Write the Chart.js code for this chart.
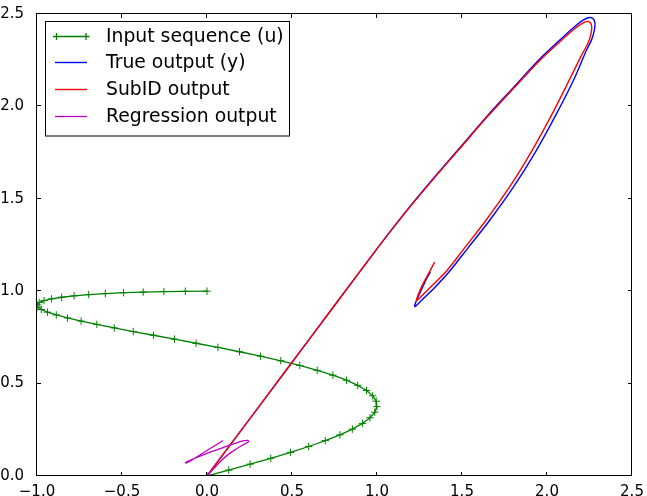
<!DOCTYPE html>
<html>
<head>
<meta charset="utf-8">
<script src="https://cdn.jsdelivr.net/npm/chart.js@4/dist/chart.umd.min.js"></script>
<style>
  html, body { margin: 0; padding: 0; background: #ffffff; }
  #wrap { width: 647px; height: 496px; }
</style>
</head>
<body>
<div id="wrap"><canvas id="c" width="647" height="496"></canvas></div>
<script>
// ---- data ----
const seriesLabels = ["Input sequence (u)", "True output (y)", "SubID output", "Regression output"];

const inputX = [0, 0.1279, 0.2536, 0.3753, 0.4907, 0.5981, 0.6959, 0.7818, 0.8551, 0.9144,
  0.9587, 0.9872, 0.9995, 0.9954, 0.9749, 0.9385, 0.8866, 0.8204, 0.7406, 0.6482,
  0.5455, 0.4339, 0.3151, 0.1912, 0.0641, -0.0641, -0.1912, -0.3151, -0.4339, -0.5455,
  -0.6482, -0.7406, -0.8204, -0.8866, -0.9385, -0.9749, -0.9954, -0.9995, -0.9872, -0.9587,
  -0.9144, -0.8551, -0.7818, -0.6959, -0.5981, -0.4907, -0.3753, -0.2536, -0.1279, 0];
const inputY = [0, 0.0321, 0.0641, 0.0960, 0.1279, 0.1596, 0.1912, 0.2225, 0.2536, 0.2845,
  0.3151, 0.3453, 0.3753, 0.4048, 0.4339, 0.4626, 0.4907, 0.5184, 0.5455, 0.5721,
  0.5981, 0.6235, 0.6482, 0.6723, 0.6959, 0.7183, 0.7406, 0.7616, 0.7818, 0.8014,
  0.8204, 0.8382, 0.8551, 0.8713, 0.8866, 0.9010, 0.9144, 0.9270, 0.9385, 0.9491,
  0.9587, 0.9673, 0.9749, 0.9816, 0.9872, 0.9918, 0.9954, 0.9979, 0.9995, 1.0];

const trueX = [0, 0.3, 0.6, 0.9, 1.05, 1.2, 1.35, 1.5, 1.65, 1.8, 1.95, 2.07, 2.16, 2.215, 2.25, 2.272, 2.282,
  2.278, 2.262, 2.23, 2.16, 2.05, 1.93, 1.8, 1.66, 1.54, 1.431, 1.35, 1.29, 1.245, 1.224,
  1.222, 1.24, 1.265, 1.29, 1.314];
const trueY = [0, 0.369, 0.738, 1.107, 1.29, 1.465, 1.63, 1.79, 1.95, 2.1, 2.25, 2.355, 2.43, 2.468, 2.481, 2.474, 2.45,
  2.41, 2.36, 2.3, 2.15, 1.95, 1.75, 1.56, 1.38, 1.24, 1.112, 1.03, 0.975, 0.935, 0.917,
  0.925, 0.965, 1.015, 1.065, 1.103];

const subidX = [0, 0.3, 0.6, 0.9, 1.05, 1.2, 1.35, 1.5, 1.65, 1.8, 1.95, 2.07, 2.155, 2.205, 2.235, 2.254, 2.263,
  2.258, 2.24, 2.205, 2.135, 2.025, 1.905, 1.777, 1.638, 1.52, 1.412, 1.335, 1.28, 1.245, 1.232,
  1.24, 1.265, 1.3, 1.339];
const subidY = [0, 0.369, 0.738, 1.107, 1.29, 1.463, 1.627, 1.786, 1.945, 2.094, 2.242, 2.345, 2.415, 2.448, 2.46, 2.454, 2.432,
  2.39, 2.34, 2.28, 2.15, 1.95, 1.75, 1.56, 1.38, 1.24, 1.112, 1.04, 0.99, 0.958, 0.95,
  0.975, 1.03, 1.09, 1.157];

const regX = [0, 0.04, 0.08, 0.12, 0.17, 0.21, 0.235, 0.245, 0.24, 0.21, 0.16, 0.09, 0.0, -0.07, -0.11, -0.127,
  -0.12, -0.09, -0.04, 0.02, 0.06, 0.094];
const regY = [0, 0.04, 0.08, 0.113, 0.145, 0.168, 0.18, 0.187, 0.193, 0.19, 0.175, 0.152, 0.123, 0.097, 0.081, 0.072,
  0.071, 0.086, 0.115, 0.15, 0.172, 0.192];

const xTicks = [-1.0, -0.5, 0.0, 0.5, 1.0, 1.5, 2.0, 2.5];
const yTicks = [0.0, 0.5, 1.0, 1.5, 2.0, 2.5];

// ---- build chart ----
function pts(xs, ys) { return xs.map((x, i) => ({ x: x, y: ys[i] })); }
function fmt(v) { return Number(v).toFixed(1).replace('-', '\u2212'); }

const frameTicks = {
  id: 'frameTicks',
  afterDatasetsDraw(chart) {
    const ctx = chart.ctx, a = chart.chartArea;
    const xs = chart.scales.x, ys = chart.scales.y;
    ctx.save();
    ctx.strokeStyle = '#000';
    ctx.lineWidth = 1;
    ctx.beginPath();
    xTicks.forEach(v => {
      const p = Math.round(xs.getPixelForValue(v)) - 0.5;
      ctx.moveTo(p, a.bottom); ctx.lineTo(p, a.bottom - 4);
      ctx.moveTo(p, a.top); ctx.lineTo(p, a.top + 4);
    });
    yTicks.forEach(v => {
      const p = Math.round(ys.getPixelForValue(v)) - 0.5;
      ctx.moveTo(a.left, p); ctx.lineTo(a.left + 4, p);
      ctx.moveTo(a.right, p); ctx.lineTo(a.right - 4, p);
    });
    ctx.stroke();
    ctx.strokeRect(a.left - 0.5, a.top - 0.5, a.right - a.left, a.bottom - a.top);
    ctx.restore();
  },
  afterDraw(chart) {
    const ctx = chart.ctx;
    ctx.save();
    const x0 = 45.5, y0 = 21.5, w = 244, h = 114.5;
    ctx.fillStyle = '#ffffff';
    ctx.fillRect(x0, y0, w, h);
    ctx.strokeStyle = '#000';
    ctx.lineWidth = 1;
    ctx.strokeRect(x0, y0, w, h);
    const rows = [36.5, 62.5, 89.5, 116.5];
    chart.data.datasets.forEach((ds, i) => {
      const y = rows[i];
      ctx.strokeStyle = ds.borderColor;
      ctx.lineWidth = ds.borderWidth;
      ctx.beginPath();
      ctx.moveTo(55, y); ctx.lineTo(87, y);
      if (i === 0) {
        [56.5, 86].forEach(mx => {
          ctx.moveTo(mx - 3.5, y); ctx.lineTo(mx + 3.5, y);
          ctx.moveTo(mx, y - 3.5); ctx.lineTo(mx, y + 3.5);
        });
      }
      ctx.stroke();
      ctx.fillStyle = '#000';
      ctx.font = '18.8px "DejaVu Sans"';
      ctx.textBaseline = 'middle';
      ctx.textAlign = 'left';
      ctx.fillText(ds.label, 106, y + 0.5);
    });
    ctx.restore();
  }
};

const tickFont = { family: '"DejaVu Sans"', size: 15 };

new Chart(document.getElementById('c'), {
  type: 'scatter',
  data: {
    datasets: [
      { label: seriesLabels[0], data: pts(inputX, inputY), showLine: true, borderColor: '#008000',
        backgroundColor: '#008000', borderWidth: 1.3, pointStyle: 'cross', pointRadius: 3.7,
        pointBorderWidth: 1, pointBorderColor: '#008000', order: 4, tension: 0 },
      { label: seriesLabels[1], data: pts(trueX, trueY), showLine: true, borderColor: '#0000ff',
        borderWidth: 1.4, pointRadius: 0, order: 3, tension: 0.3 },
      { label: seriesLabels[2], data: pts(subidX, subidY), showLine: true, borderColor: '#ff0000',
        borderWidth: 1.4, pointRadius: 0, order: 2, tension: 0.3 },
      { label: seriesLabels[3], data: pts(regX, regY), showLine: true, borderColor: '#bf00bf',
        borderWidth: 1.3, pointRadius: 0, order: 1, tension: 0.3 }
    ]
  },
  options: {
    responsive: false,
    animation: false,
    devicePixelRatio: 1,
    layout: { padding: { left: 0, right: 15, top: 13, bottom: 0 } },
    plugins: { legend: { display: false }, tooltip: { enabled: false } },
    scales: {
      x: {
        type: 'linear', min: -1.0, max: 2.5,
        grid: { display: false }, border: { display: false },
        afterBuildTicks: s => { s.ticks = xTicks.map(v => ({ value: v })); },
        afterFit: s => { s.height = 20; },
        ticks: { font: tickFont, color: '#000', padding: -1, maxRotation: 0, autoSkip: false,
          callback: v => fmt(v) }
      },
      y: {
        type: 'linear', min: 0, max: 2.5,
        grid: { display: false }, border: { display: false },
        afterBuildTicks: s => { s.ticks = yTicks.map(v => ({ value: v })); },
        afterFit: s => { s.width = 37; },
        ticks: { font: tickFont, color: '#000', padding: 5, autoSkip: false,
          callback: v => fmt(v) }
      }
    }
  },
  plugins: [frameTicks]
});
</script>
</body>
</html>
